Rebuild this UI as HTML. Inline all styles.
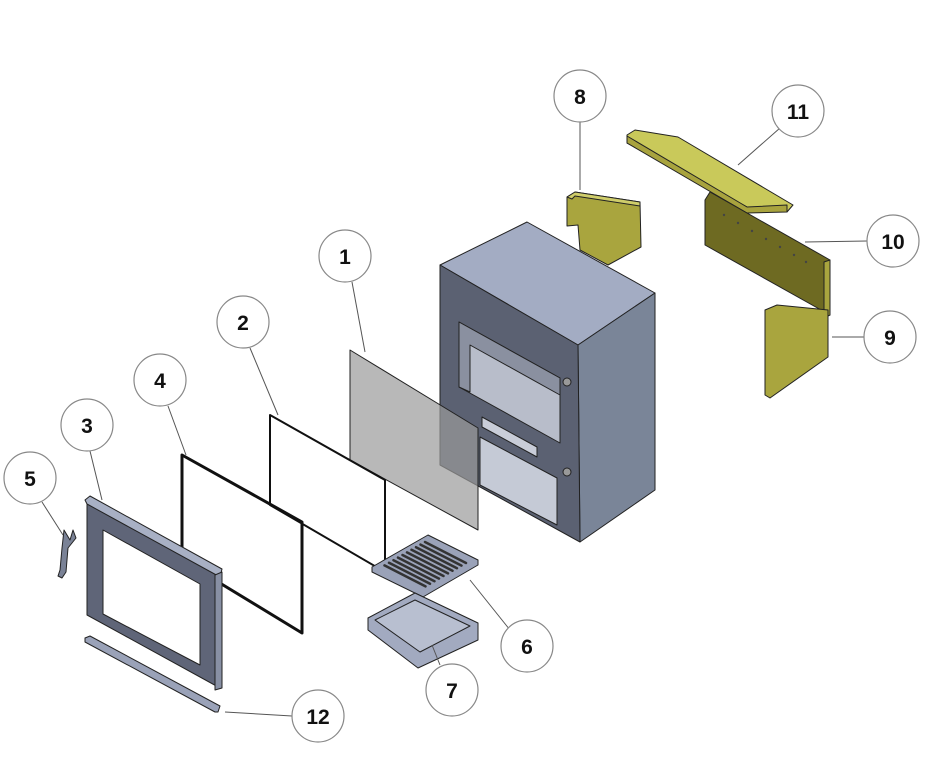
<!DOCTYPE html>
<html><head><style>body{margin:0;background:#fff}svg{display:block}text{font-family:"Liberation Sans",sans-serif;font-weight:bold;font-size:21px;text-anchor:middle}</style></head>
<body>
<svg width="952" height="763" viewBox="0 0 952 763" xmlns="http://www.w3.org/2000/svg">
<g stroke="#222" stroke-width="1" stroke-linejoin="round">
<!-- stove box -->
<polygon points="440,265 527,222 655,293 578,345" fill="#a3acc3"/>
<polygon points="578,345 655,293 655,490 580,542" fill="#7a8598"/>
<polygon points="440,265 578,345 580,542 440,465" fill="#5b6172"/>
<polygon points="459,322 560,378 560,443 459,387" fill="#b8bdca"/>
<polygon points="459,322 560,378 560,395 470,345 470,392 459,387" fill="#8a90a0"/>
<polygon points="480,437 557,478 557,525 480,485" fill="#c5cad6"/>
<polygon points="482,417 537,447 537,457 482,427" fill="#c9cdd8"/>
<circle cx="567" cy="382" r="4" fill="#999"/><circle cx="567" cy="472" r="4" fill="#999"/>
<!-- glass -->
<polygon points="350,350 478,428 478,530 350,460" fill="#9a9a9a" fill-opacity="0.7"/>
<!-- gasket 2 -->
<polygon points="270,415 385,480 385,572 270,505" fill="none" stroke="#111" stroke-width="2"/>
<!-- gasket 4 -->
<polygon points="182,455 302,522 302,633 182,560" fill="none" stroke="#111" stroke-width="3"/>
<!-- frame 3 -->
<polygon points="87,500 220,573 220,688 87,615" fill="#5f6578"/>
<polygon points="85,500 90,496 222,569 220,577 87,504" fill="#a8b0c4"/>
<polygon points="103,530 200,584 200,665 103,614" fill="#fff"/>
<polygon points="215,575 222,572 222,688 215,690" fill="#8890a4"/>
<!-- bar 12 -->
<polygon points="85,638 90,636 220,706 218,712 215,712 85,642" fill="#9aa2b8"/>
<!-- hook 5 -->
<path d="M64,530 L70,540 L73,530 L76,538 L68,548 L66,572 L62,578 L58,576 L60,570 L62,548 Z" fill="#7a8296"/>
<!-- grate 6 -->
<polygon points="372,567 428,535 478,560 478,565 423,597 372,572" fill="#9aa2b8"/>
<g stroke="#333" stroke-width="2.5" stroke-linecap="round">
<line x1="425" y1="542" x2="466" y2="563"/><line x1="420.5" y1="544.6" x2="461.5" y2="565.6"/>
<line x1="416" y1="547.2" x2="457" y2="568.2"/><line x1="411.5" y1="549.8" x2="452.5" y2="570.8"/>
<line x1="407" y1="552.4" x2="448" y2="573.4"/><line x1="402.5" y1="555" x2="443.5" y2="576"/>
<line x1="398" y1="557.6" x2="439" y2="578.6"/><line x1="393.5" y1="560.2" x2="434.5" y2="581.2"/>
<line x1="389" y1="562.8" x2="430" y2="583.8"/><line x1="384.5" y1="565.4" x2="425.5" y2="586.4"/>
</g>
<!-- tray 7 -->
<polygon points="368,618 415,593 478,623 478,640 418,668 368,630" fill="#a2aac0"/>
<polygon points="375,620 415,600 470,626 420,652" fill="#b8bfd0"/>
<!-- bricks -->
<polygon points="567,197 575,192 640,202 641,247 608,265 580,250 578,225 567,226" fill="#a9a53e"/>
<polygon points="567,197 575,192 640,202 640,206 575,196 572,199" fill="#cfcd6a"/>
<polygon points="627,135 635,130 678,137 793,205 787,212 747,207 627,143" fill="#c9c95a"/>
<polygon points="627,143 747,213 787,212 787,205 747,207 627,136" fill="#a8a33e"/>
<polygon points="705,200 710,192 830,260 830,315 705,245" fill="#6e6a22"/>
<polygon points="824,262 830,260 830,315 824,318" fill="#a9a53e"/>
<polygon points="765,310 777,305 828,310 828,357 770,398 765,395" fill="#a9a53e"/>
</g>
<g fill="#444"><circle cx="724" cy="215" r="1.2"/><circle cx="738" cy="223" r="1.2"/><circle cx="752" cy="231" r="1.2"/><circle cx="766" cy="239" r="1.2"/><circle cx="780" cy="247" r="1.2"/><circle cx="794" cy="255" r="1.2"/><circle cx="806" cy="262" r="1.2"/></g>
<!-- leaders -->
<g stroke="#555" stroke-width="1" fill="none">
<line x1="352" y1="282" x2="365" y2="352"/><line x1="250" y1="348" x2="278" y2="415"/>
<line x1="90" y1="451" x2="102" y2="500"/><line x1="168" y1="406" x2="186" y2="455"/>
<line x1="42" y1="502" x2="63" y2="535"/><line x1="510" y1="630" x2="470" y2="580"/>
<line x1="440" y1="665" x2="432" y2="645"/><line x1="580" y1="122" x2="580" y2="190"/>
<line x1="864" y1="337" x2="832" y2="337"/><line x1="867" y1="241" x2="805" y2="242"/>
<line x1="780" y1="128" x2="738" y2="165"/><line x1="292" y1="716" x2="225" y2="712"/>
</g>
<g fill="#fff" stroke="#888" stroke-width="1.2">
<circle cx="345" cy="256" r="26"/><circle cx="243" cy="322" r="26"/><circle cx="87" cy="425" r="26"/>
<circle cx="160" cy="380" r="26"/><circle cx="30" cy="478" r="26"/><circle cx="527" cy="646" r="26"/>
<circle cx="452" cy="690" r="26"/><circle cx="580" cy="96" r="26"/><circle cx="890" cy="337" r="26"/>
<circle cx="893" cy="241" r="26"/><circle cx="798" cy="111" r="26"/><circle cx="318" cy="716" r="26"/>
</g>
<g fill="#111">
<text x="345" y="264">1</text><text x="243" y="330">2</text><text x="87" y="433">3</text>
<text x="160" y="388">4</text><text x="30" y="486">5</text><text x="527" y="654">6</text>
<text x="452" y="698">7</text><text x="580" y="104">8</text><text x="890" y="345">9</text>
<text x="893" y="249">10</text><text x="798" y="119">11</text><text x="318" y="724">12</text>
</g>
</svg>
</body></html>
